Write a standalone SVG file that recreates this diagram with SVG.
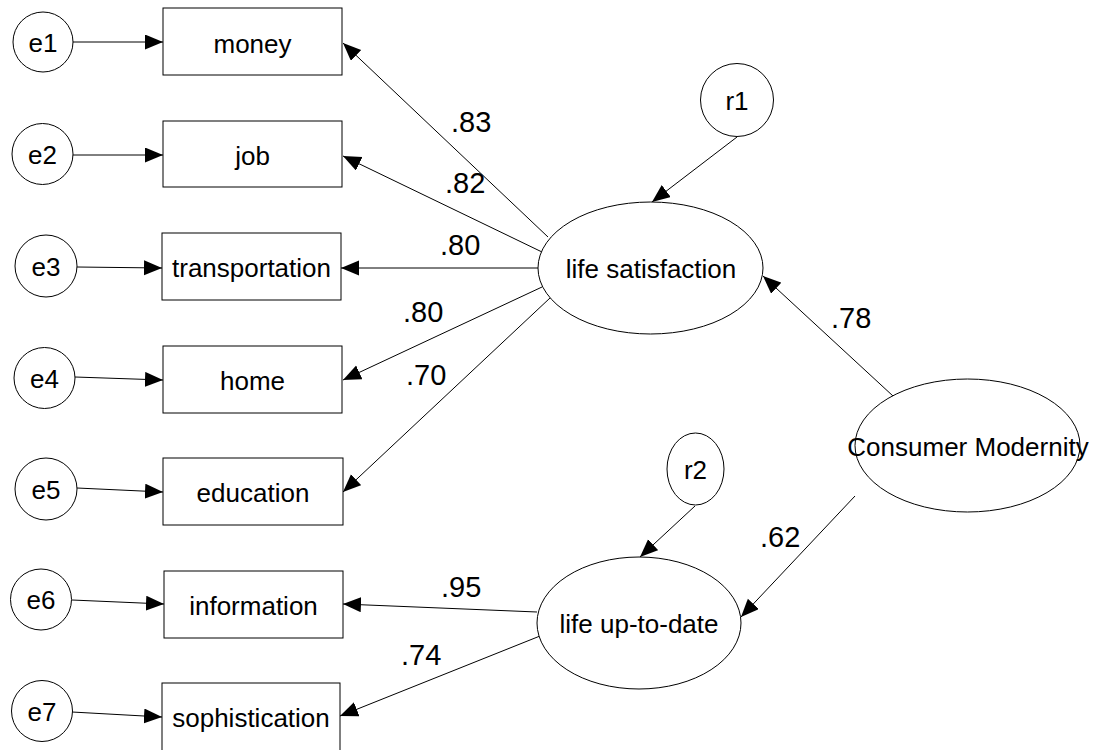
<svg xmlns="http://www.w3.org/2000/svg" width="1097" height="750" viewBox="0 0 1097 750">
  <style>
    .shape { fill: #ffffff; stroke: #000000; stroke-width: 1; }
    .edge { fill: none; stroke: #000000; stroke-width: 1; marker-end: url(#arrow); }
    .lbl { font-family: "Liberation Sans", Arial, sans-serif; font-size: 26px; fill: #000000; text-anchor: middle; }
    .coef { font-family: "Liberation Sans", Arial, sans-serif; font-size: 29px; fill: #000000; }
  </style>
  <defs>
    <marker id="arrow" markerUnits="userSpaceOnUse" markerWidth="19" markerHeight="16" refX="18" refY="7.5" orient="auto">
      <path d="M0,0 L18,7.5 L0,15 z" fill="#000000"/>
    </marker>
  </defs>
  <rect width="1097" height="750" fill="#ffffff"/>

  <!-- paths and loadings -->
  <g id="connectors">
    <line class="edge" x1="73" y1="42" x2="163" y2="42"/>
    <line class="edge" x1="73" y1="155" x2="163" y2="155"/>
    <line class="edge" x1="77" y1="267" x2="162" y2="268"/>
    <line class="edge" x1="75" y1="377" x2="163" y2="380"/>
    <line class="edge" x1="77" y1="488" x2="163" y2="492"/>
    <line class="edge" x1="72" y1="600" x2="164" y2="604"/>
    <line class="edge" x1="72" y1="712" x2="162" y2="717"/>

    <line class="edge" x1="548" y1="237" x2="343" y2="43"/>
    <line class="edge" x1="542" y1="252" x2="343" y2="156"/>
    <line class="edge" x1="538" y1="268" x2="341" y2="268"/>
    <line class="edge" x1="542" y1="287" x2="343" y2="380"/>
    <line class="edge" x1="550" y1="298" x2="343" y2="492"/>

    <line class="edge" x1="537" y1="612" x2="343" y2="604"/>
    <line class="edge" x1="540" y1="636" x2="340" y2="716"/>

    <line class="edge" x1="737" y1="137" x2="652" y2="202"/>
    <line class="edge" x1="695" y1="506" x2="640" y2="557"/>
    <line class="edge" x1="893" y1="396" x2="763" y2="276"/>
    <line class="edge" x1="855" y1="496" x2="741" y2="617"/>
  </g>

  <g id="coefficients">
    <text class="coef" x="451" y="132">.83</text>
    <text class="coef" x="445" y="193">.82</text>
    <text class="coef" x="440" y="255">.80</text>
    <text class="coef" x="403" y="322">.80</text>
    <text class="coef" x="406" y="385">.70</text>
    <text class="coef" x="441" y="597">.95</text>
    <text class="coef" x="401" y="665">.74</text>
    <text class="coef" x="831" y="328">.78</text>
    <text class="coef" x="760" y="547">.62</text>
  </g>

  <!-- error terms -->
  <g id="e1"><circle class="shape" cx="43" cy="42" r="30"/><text class="lbl" x="43" y="52">e1</text></g>
  <g id="e2"><circle class="shape" cx="42.5" cy="154" r="30.5"/><text class="lbl" x="42.5" y="164">e2</text></g>
  <g id="e3"><circle class="shape" cx="46" cy="266" r="31"/><text class="lbl" x="46" y="276">e3</text></g>
  <g id="e4"><circle class="shape" cx="44.5" cy="378" r="30.5"/><text class="lbl" x="44.5" y="388">e4</text></g>
  <g id="e5"><circle class="shape" cx="46" cy="489" r="31"/><text class="lbl" x="46" y="499">e5</text></g>
  <g id="e6"><circle class="shape" cx="41" cy="599.5" r="30.5"/><text class="lbl" x="41" y="609">e6</text></g>
  <g id="e7"><circle class="shape" cx="42" cy="711" r="30.5"/><text class="lbl" x="42" y="721">e7</text></g>

  <!-- observed indicators -->
  <g id="money"><rect class="shape" x="163" y="8" width="179" height="67"/><text class="lbl" x="252.5" y="53">money</text></g>
  <g id="job"><rect class="shape" x="163" y="121" width="179" height="66"/><text class="lbl" x="252.5" y="165">job</text></g>
  <g id="transportation"><rect class="shape" x="162" y="233" width="179" height="67"/><text class="lbl" x="251.5" y="277">transportation</text></g>
  <g id="home"><rect class="shape" x="163" y="346" width="179" height="67"/><text class="lbl" x="252.5" y="390">home</text></g>
  <g id="education"><rect class="shape" x="163" y="458" width="180" height="67"/><text class="lbl" x="253" y="502">education</text></g>
  <g id="information"><rect class="shape" x="164" y="571" width="179" height="67"/><text class="lbl" x="253.5" y="615">information</text></g>
  <g id="sophistication"><rect class="shape" x="162" y="683" width="178" height="68"/><text class="lbl" x="251" y="727">sophistication</text></g>

  <!-- latent variables -->
  <g id="life-satisfaction"><ellipse class="shape" cx="650.5" cy="268" rx="112.5" ry="66"/><text class="lbl" x="651" y="278">life satisfaction</text></g>
  <g id="life-up-to-date"><ellipse class="shape" cx="639" cy="623" rx="102" ry="66"/><text class="lbl" x="639" y="633">life up-to-date</text></g>
  <g id="consumer-modernity"><ellipse class="shape" cx="967.5" cy="445.5" rx="112.5" ry="66.5"/><text class="lbl" x="968" y="456">Consumer Modernity</text></g>

  <!-- disturbances -->
  <g id="r1"><circle class="shape" cx="737" cy="100" r="36.5"/><text class="lbl" x="737" y="110">r1</text></g>
  <g id="r2"><ellipse class="shape" cx="695.5" cy="469" rx="28.5" ry="36"/><text class="lbl" x="695.5" y="479">r2</text></g>
</svg>
